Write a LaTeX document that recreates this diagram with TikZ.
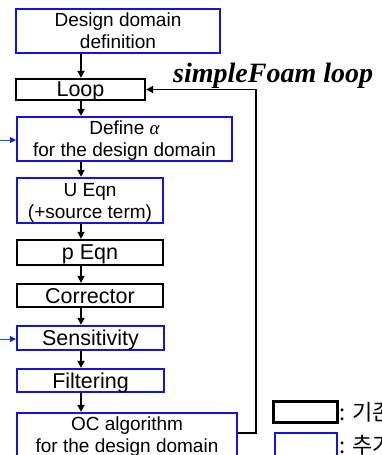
\documentclass[tikz,border=0pt]{standalone}
\usepackage{fontspec}
\setmainfont{Liberation Sans}
\newfontfamily\serifbi{Liberation Serif}
\newfontfamily\kr{Noto Sans CJK KR}
\usetikzlibrary{arrows.meta}
\definecolor{bbox}{RGB}{20,20,220}
\begin{document}
\begin{tikzpicture}[x=1pt,y=-1pt,
  base/.style={draw,line width=2.3pt,inner sep=0pt,align=center,text depth=0pt,font=\fontsize{19}{22}\selectfont},
  bluebox/.style={base,draw=bbox},
  blackbox/.style={base,draw=black},
  big/.style={font=\fontsize{21.5}{23}\selectfont},
  arr/.style={line width=1.8pt,-{Triangle[length=7pt,width=7pt]}},
  inarr/.style={line width=0.8pt,draw=bbox!70!cyan,-{Triangle[length=6pt,width=6pt,fill=bbox,color=bbox]}}]
\useasboundingbox (0,0) rectangle (381,455);
\node[bluebox,minimum width=204pt,minimum height=44pt] (dd) at (118,31) {Design domain\\definition};
\node[blackbox,big,minimum width=129pt,minimum height=21pt] (loop) at (80.5,89.5) {Loop};
\node[bluebox,minimum width=215pt,minimum height=44pt] (alpha) at (124.5,139) {Define {\serifbi\itshape α}\\for the design domain};
\node[bluebox,minimum width=146pt,minimum height=45pt] (ueqn) at (90,200.5) {U Eqn\\(+source term)};
\node[blackbox,big,minimum width=146pt,minimum height=25pt] (peqn) at (90,252.5) {p Eqn};
\node[blackbox,big,minimum width=146pt,minimum height=23pt] (corr) at (90,295.5) {Corrector};
\node[bluebox,big,minimum width=147pt,minimum height=24pt] (sens) at (90.5,338) {Sensitivity};
\node[bluebox,big,minimum width=147pt,minimum height=23pt] (filt) at (90.5,380.5) {Filtering};
\node[bluebox,minimum width=220pt,minimum height=44pt] (oc) at (127,435) {OC algorithm\\for the design domain};
\coordinate (ax) at (81,0);
\draw[arr] (ax |- dd.south) -- (ax |- loop.north);
\draw[arr] (ax |- loop.south) -- (ax |- alpha.north);
\draw[arr] (ax |- alpha.south) -- (ax |- ueqn.north);
\draw[arr] (ax |- ueqn.south) -- (ax |- peqn.north);
\draw[arr] (ax |- peqn.south) -- (ax |- corr.north);
\draw[arr] (ax |- corr.south) -- (ax |- sens.north);
\draw[arr] (ax |- sens.south) -- (ax |- filt.north);
\draw[arr] (ax |- filt.south) -- (ax |- oc.north);
\coordinate (fb) at (256,433);
\draw[arr] (oc.east |- fb) -- (fb) |- (loop.east);
\node[anchor=base west,inner sep=0pt,font=\serifbi\bfseries\itshape\fontsize{28}{30}\selectfont] (sf) at (173,82) {simpleFoam loop};
\coordinate (in1) at (0,140);
\coordinate (in2) at (0,339);
\draw[inarr] (in1) -- (alpha.west |- in1);
\draw[inarr] (in2) -- (sens.west |- in2);
\node[blackbox,minimum width=64pt,minimum height=21pt] (lg1) at (305.5,412) {};
\node[bluebox,minimum width=62pt,minimum height=24pt] (lg2) at (306,445) {};
\node[anchor=west,inner sep=1pt,font=\kr\fontsize{22}{24}\selectfont] (lt1) at (lg1.east) {: 기존 코드};
\node[anchor=west,inner sep=1pt,font=\kr\fontsize{22}{24}\selectfont] (lt2) at (lg2.east) {: 추가 코드};
\end{tikzpicture}
\end{document}
